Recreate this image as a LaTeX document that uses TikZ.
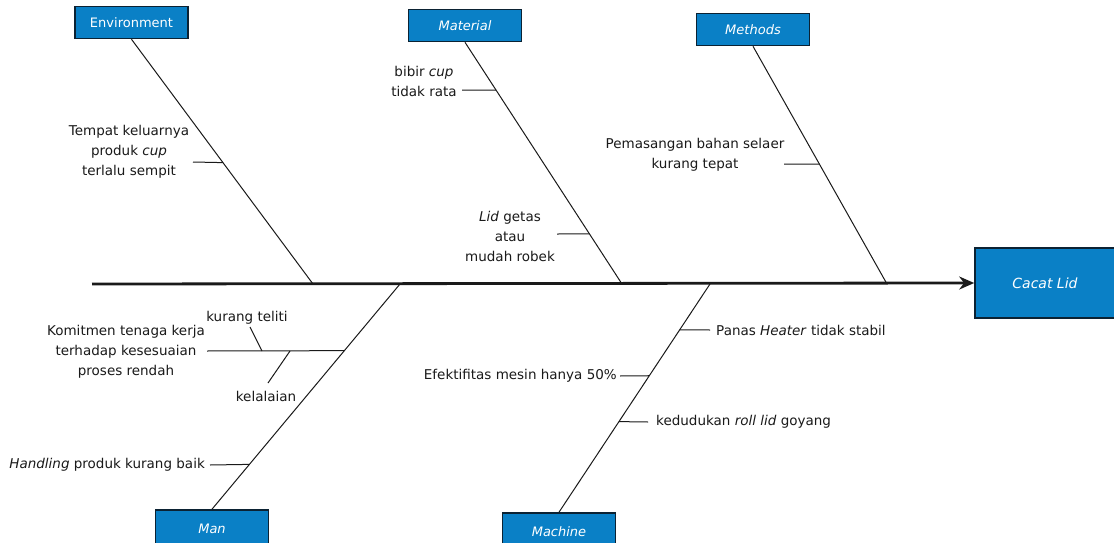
\documentclass[tikz,border=0pt]{standalone}
\usepackage{fontspec}
\setmainfont{DejaVu Sans}
\usetikzlibrary{calc,arrows.meta}
\definecolor{boxblue}{HTML}{0A80C6}
\definecolor{boxedge}{HTML}{0B2233}
\definecolor{inkline}{HTML}{1A1A1A}
\tikzset{
  catbox/.style={draw=boxedge, line width=1.6pt, fill=boxblue, text=white,
    minimum width=113, minimum height=32, inner sep=0pt,
    font=\fontsize{13}{15}\selectfont},
  boxit/.style={font=\fontsize{13}{15}\selectfont\itshape},
  bone/.style={line width=1pt, draw=inkline},
  tickline/.style={line width=1pt, draw=inkline},
  cause/.style={font=\fontsize{13.5}{20}\selectfont, align=center, inner sep=1pt, text=inkline},
  spine/.style={line width=2.8pt, draw=inkline, -{Stealth[length=15pt,width=13pt]}},
}
\begin{document}
\begin{tikzpicture}[x=1pt,y=-1pt]
  \useasboundingbox (0,0) rectangle (1114,543);
  \fill[white] (0,0) rectangle (1114,543);

  % effect box and spine
  \node[catbox, minimum width=140, minimum height=70, font=\fontsize{14}{16}\selectfont\itshape] (cacat) at (1045,283) {Cacat Lid};
  \coordinate (tail) at (92,284);
  \draw[spine] (tail) -- (cacat.west);

  % category boxes
  \node[catbox] (env) at (131.5,22.5) {Environment};
  \node[catbox, boxit] (mat) at (465,25.5) {Material};
  \node[catbox, boxit] (meth) at (753,29.5) {Methods};
  \node[catbox, boxit, minimum height=38] (man) at (212,529) {Man};
  \node[catbox, boxit, minimum height=38] (mach) at (559,532) {Machine};

  % points where the bones meet the spine
  \coordinate (envS) at (313,284);
  \coordinate (matS) at (622,284);
  \coordinate (methS) at (887,284);
  \coordinate (manS) at (400,284);
  \coordinate (machS) at (710,284);

  % bones
  \draw[bone] (env.south) -- (envS);
  \draw[bone] (mat.south) -- (matS);
  \draw[bone] (meth.south) -- (methS);
  \draw[bone] (manS) -- (man.north);
  \draw[bone] (machS) -- (mach.north);

  % Environment causes
  \node[cause] (envc) at (129,152) {Tempat keluarnya\\produk \textit{cup}\\terlalu sempit};
  \coordinate (envt) at ($(env.south)!0.504!(envS)$);
  \coordinate (envtE) at (193,162);
  \draw[tickline] (envtE) -- (envt);

  % Material causes
  \node[cause] (matc1) at (424,81) {bibir \textit{cup}\\tidak rata};
  \coordinate (mat1) at ($(mat.south)!0.198!(matS)$);
  \coordinate (mat1E) at (462,90);
  \draw[tickline] (mat1E) -- (mat1);

  \node[cause] (matc2) at (510,236) {\textit{Lid} getas\\atau\\mudah robek};
  \coordinate (mat2) at ($(mat.south)!0.793!(matS)$);
  \coordinate (mat2E) at (557,234);
  \draw[tickline] (mat2E) -- (mat2);

  % Methods causes
  \node[cause] (methc) at (695,155) {Pemasangan bahan selaer\\kurang tepat};
  \coordinate (meth1) at ($(meth.south)!0.496!(methS)$);
  \coordinate (meth1E) at (784,164);
  \draw[tickline] (meth1E) -- (meth1);

  % Man causes
  \node[cause] (manc1) at (126,352) {Komitmen tenaga kerja\\terhadap kesesuaian\\proses rendah};
  \coordinate (man1) at ($(manS)!0.296!(man.north)$);
  \coordinate (man1E) at (207,351);
  \draw[tickline] (man1E) -- (man1);

  \node[cause] (kt) at (247,318) {kurang teliti};
  \coordinate (ktB) at (262,351);
  \coordinate (ktE) at (250,327);
  \draw[tickline] (ktB) -- (ktE);

  \node[cause] (kl) at (266,396) {kelalaian};
  \coordinate (klB) at (290,351);
  \coordinate (klE) at (268,383);
  \draw[tickline] (klB) -- (klE);

  \node[cause, anchor=east] (manc2) at (206,465) {\textit{Handling} produk kurang baik};
  \coordinate (man2) at ($(manS)!0.801!(man.north)$);
  \coordinate (man2E) at (210,465);
  \draw[tickline] (man2E) -- (man2);

  % Machine causes
  \node[cause, anchor=west] (machc1) at (715,330) {Panas \textit{Heater} tidak stabil};
  \coordinate (mach1) at ($(machS)!0.201!(mach.north)$);
  \coordinate (mach1E) at (710,330);
  \draw[tickline] (mach1) -- (mach1E);

  \node[cause, anchor=east] (machc2) at (618,376) {Efektifitas mesin hanya 50\%};
  \coordinate (mach2) at ($(machS)!0.402!(mach.north)$);
  \coordinate (mach2E) at (620,376);
  \draw[tickline] (mach2E) -- (mach2);

  \node[cause, anchor=west] (machc3) at (655,422) {kedudukan \textit{roll lid} goyang};
  \coordinate (mach3) at ($(machS)!0.603!(mach.north)$);
  \coordinate (mach3E) at (648,422);
  \draw[tickline] (mach3) -- (mach3E);
\end{tikzpicture}
\end{document}
